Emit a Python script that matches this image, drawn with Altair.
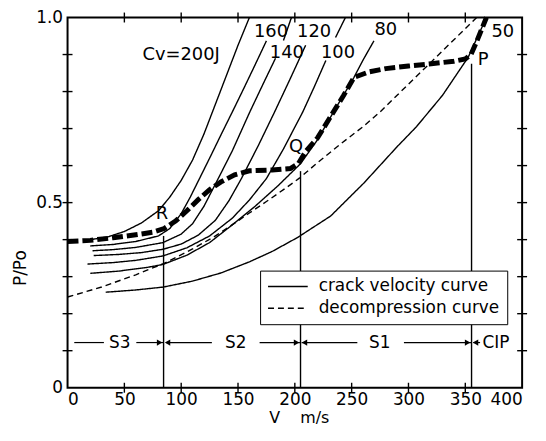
import altair as alt
import pandas as pd

FONT = "DejaVu Sans"
W, H = 458, 373

# ---- crack velocity curves (V [m/s], P/Po) ----
CV200_V = [20, 35, 50, 65, 80, 90, 100, 110, 120, 130, 140, 150, 160]
CV200_P = [0.400, 0.407, 0.422, 0.445, 0.478, 0.515, 0.560, 0.615, 0.685, 0.765, 0.845, 0.925, 1.000]

CV160_V = [20, 40, 60, 80, 90, 100, 108, 116.6, 125, 135, 145.8, 155, 165, 175]
CV160_P = [0.383, 0.387, 0.395, 0.410, 0.430, 0.470, 0.515, 0.568, 0.620, 0.683, 0.750, 0.808, 0.872, 0.937]

CV140_V = [22, 40, 60, 84, 100, 110, 120, 132.6, 145, 160.4, 172, 183]
CV140_P = [0.370, 0.373, 0.379, 0.392, 0.415, 0.443, 0.490, 0.565, 0.640, 0.745, 0.820, 0.890]
CV140_TOP_V = [190, 197]
CV140_TOP_P = [0.938, 1.0]

CV120_V = [23, 45, 65, 84, 100, 115, 130, 142, 153, 168, 182.2, 196, 209.5]
CV120_P = [0.357, 0.360, 0.365, 0.374, 0.388, 0.412, 0.452, 0.505, 0.565, 0.655, 0.745, 0.835, 0.925]

CV100_V = [17.5, 40, 60, 84, 105, 125, 145, 160, 175, 190, 207, 217, 227.3]
CV100_P = [0.334, 0.338, 0.344, 0.356, 0.378, 0.410, 0.458, 0.507, 0.565, 0.645, 0.745, 0.812, 0.884]
CV100_TOP_V = [235.8, 244.5]
CV100_TOP_P = [0.946, 1.0]

CV80_V = [20, 45, 70, 84, 105, 125, 145, 165, 185, 205, 220, 235, 252, 260, 269.6]
CV80_P = [0.309, 0.315, 0.325, 0.333, 0.358, 0.392, 0.440, 0.490, 0.545, 0.605, 0.670, 0.750, 0.838, 0.885, 0.937]

CV50_V = [33.6, 60, 84.5, 110, 135, 160, 180, 202.5, 231.6, 260.8, 290, 307, 330, 352.6, 368.6]
CV50_P = [0.258, 0.264, 0.272, 0.288, 0.310, 0.340, 0.368, 0.406, 0.464, 0.553, 0.651, 0.705, 0.790, 0.893, 1.000]

# ---- decompression curve ----
DEC_V = [0, 30, 60, 85, 110, 128, 141, 160, 175, 190, 204, 220, 240, 260, 275, 290, 310, 325, 340, 360]
DEC_P = [0.245, 0.272, 0.305, 0.336, 0.375, 0.406, 0.432, 0.472, 0.503, 0.535, 0.566, 0.608, 0.658,
         0.705, 0.745, 0.790, 0.850, 0.895, 0.940, 1.000]

# ---- thick dashed crack path ----
PATH_V = [0, 20, 40, 60, 75, 85, 95, 105, 115, 125, 135, 147, 160, 180, 196, 203, 210, 220, 232, 243,
          252, 265, 280, 300, 320, 340, 350, 355, 360, 368.6]
PATH_P = [0.395, 0.398, 0.405, 0.413, 0.420, 0.430, 0.450, 0.478, 0.508, 0.535, 0.556, 0.575, 0.586,
          0.588, 0.592, 0.605, 0.640, 0.675, 0.735, 0.790, 0.838, 0.853, 0.862, 0.869, 0.875, 0.882,
          0.888, 0.900, 0.935, 1.000]

# ---- annotations ----
LABEL_TEXT = ["Cv=200J", "160", "140", "120", "100", "80", "50", "P", "Q", "R"]
LABEL_V = [99.9, 179, 193, 217, 238, 280, 383, 365.7, 201, 83]
LABEL_P = [0.898, 0.962, 0.904, 0.962, 0.904, 0.966, 0.962, 0.884, 0.651, 0.468]

MARK_V = [84.5, 205, 355.5]          # R, Q, P vertical lines
MARK_TOP = [0.41, 0.585, 0.875]

REGION_TEXT = ["S3", "S2", "S1", "CIP"]
REGION_V = [46, 148, 274.7, 377]
REGION_P = 0.122
ARROW_V1 = [5.9, 60.5, 87, 169, 206, 296, 357]
ARROW_V2 = [32, 84.5, 127, 204.5, 255, 355, 363]

X_LABELS = [0, 50, 100, 150, 200, 250, 300, 350, 400]
Y_LABELS = [0, 0.5, 1.0]
X_TICKS = [50, 100, 150, 200, 250, 300, 350]
Y_TICKS = [0.1, 0.2, 0.3, 0.4, 0.5, 0.6, 0.7, 0.8, 0.9]

KINDS = ["crack velocity curve", "decompression curve"]
X_TITLE = "V\u00a0\u00a0\u00a0\u00a0m/s"

# ---- tables ----
rows = []
for name, vs, ps, kind in [
    ("200", CV200_V, CV200_P, KINDS[0]),
    ("160", CV160_V, CV160_P, KINDS[0]),
    ("140a", CV140_V, CV140_P, KINDS[0]),
    ("140b", CV140_TOP_V, CV140_TOP_P, KINDS[0]),
    ("120", CV120_V, CV120_P, KINDS[0]),
    ("100a", CV100_V, CV100_P, KINDS[0]),
    ("100b", CV100_TOP_V, CV100_TOP_P, KINDS[0]),
    ("80", CV80_V, CV80_P, KINDS[0]),
    ("50", CV50_V, CV50_P, KINDS[0]),
    ("dec", DEC_V, DEC_P, KINDS[1]),
]:
    for v, p in zip(vs, ps):
        rows.append({"V": v, "P": p, "part": name, "kind": kind})
curves = pd.DataFrame(rows)
path = pd.DataFrame({"V": PATH_V, "P": PATH_P})
labels = pd.DataFrame({"text": LABEL_TEXT, "V": LABEL_V, "P": LABEL_P})
marks = pd.DataFrame({"V": MARK_V, "P": [0] * len(MARK_V), "P2": MARK_TOP})
regions = pd.DataFrame({"text": REGION_TEXT, "V": REGION_V, "P": [REGION_P] * len(REGION_TEXT)})
arrows = pd.DataFrame({"V": ARROW_V1, "V2": ARROW_V2, "P": [REGION_P] * len(ARROW_V1)})
heads = pd.DataFrame({"V": MARK_V, "P": [REGION_P] * len(MARK_V)})
xt = pd.DataFrame({"t": X_TICKS})
yt = pd.DataFrame({"t": Y_TICKS})

XS = alt.Scale(domain=[0, 400], nice=False, zero=False)
YS = alt.Scale(domain=[0, 1], nice=False)
AX_X = alt.Axis(values=X_LABELS, ticks=False, domain=False, grid=False, labelPadding=4,
                labelFontSize=17, title=X_TITLE, titleFontSize=16, titleFontWeight="normal",
                titleX=233, titleY=22, titleBaseline="top", titleAlign="center")
AX_Y = alt.Axis(values=Y_LABELS, ticks=False, domain=False, grid=False, labelPadding=5,
                labelFontSize=17, labelExpr="datum.value == 0 ? '0' : format(datum.value, '.1f')",
                title="P/Po", titleFontSize=17, titleFontWeight="normal", titleAngle=270,
                titleX=-47, titleY=252, titleAlign="center", titleBaseline="middle")


def X(f):
    return alt.X(f, type="quantitative", scale=XS, axis=AX_X)


def Y(f):
    return alt.Y(f, type="quantitative", scale=YS, axis=AX_Y)


thin = alt.Chart(curves).mark_line(color="black", strokeWidth=1.4).encode(
    x=X("V"), y=Y("P"), detail="part:N",
    strokeDash=alt.StrokeDash(
        "kind:N",
        scale=alt.Scale(domain=KINDS, range=[[1, 0], [6, 4]]),
        legend=alt.Legend(title=None, orient="none", legendX=194, legendY=255,
                          fillColor="white", strokeColor="black", padding=7, rowPadding=4,
                          labelOffset=10, labelFont=FONT, labelFontSize=17, labelColor="black",
                          labelLimit=400,
                          symbolType="stroke", symbolSize=1600, symbolStrokeWidth=1.5,
                          symbolStrokeColor="black", clipHeight=18, zindex=1),
    ),
)

thick = alt.Chart(path).mark_line(color="black", strokeWidth=5, strokeDash=[11, 4]).encode(
    x=X("V"), y=Y("P"))

vlines = alt.Chart(marks).mark_rule(color="black", strokeWidth=1.4).encode(
    x=X("V"), y=Y("P"), y2="P2")

arrow_lines = alt.Chart(arrows).mark_rule(color="black", strokeWidth=1.2).encode(
    x=X("V"), x2="V2", y=Y("P"))

head_r = alt.Chart(heads).mark_point(shape="triangle-right", filled=True, color="black",
                                     size=40, opacity=1, xOffset=-4).encode(x=X("V"), y=Y("P"))
head_l = alt.Chart(heads).mark_point(shape="triangle-left", filled=True, color="black",
                                     size=40, opacity=1, xOffset=4).encode(x=X("V"), y=Y("P"))

region_text = alt.Chart(regions).mark_text(font=FONT, fontSize=17, color="black",
                                           align="center", baseline="middle").encode(
    x=X("V"), y=Y("P"), text="text:N")

label_text = alt.Chart(labels).mark_text(font=FONT, fontSize=18, color="black",
                                         align="center", baseline="middle").encode(
    x=X("V"), y=Y("P"), text="text:N")

tick_l = alt.Chart(yt).mark_rule(color="black", strokeWidth=1.4).encode(
    y=Y("t"), x=alt.value(-5), x2=alt.value(5))
tick_r = alt.Chart(yt).mark_rule(color="black", strokeWidth=1.4).encode(
    y=Y("t"), x=alt.value(W - 5), x2=alt.value(W + 5))
tick_t = alt.Chart(xt).mark_rule(color="black", strokeWidth=1.4).encode(
    x=X("t"), y=alt.value(-5), y2=alt.value(5))
tick_b = alt.Chart(xt).mark_rule(color="black", strokeWidth=1.4).encode(
    x=X("t"), y=alt.value(H - 5), y2=alt.value(H + 5))

chart = alt.layer(
    thin, thick, vlines, arrow_lines, head_r, head_l, region_text, label_text,
    tick_l, tick_r, tick_t, tick_b,
).properties(
    width=W, height=H,
    autosize=alt.AutoSizeParams(type="none"),
    padding={"left": 60, "top": 8, "right": 16, "bottom": 40},
    background="white",
).configure_view(
    stroke="black", strokeWidth=2
).configure_axis(
    labelFont=FONT, titleFont=FONT, labelColor="black", titleColor="black"
)

chart.save("out.html", embed_options={"renderer": "svg", "actions": False})
